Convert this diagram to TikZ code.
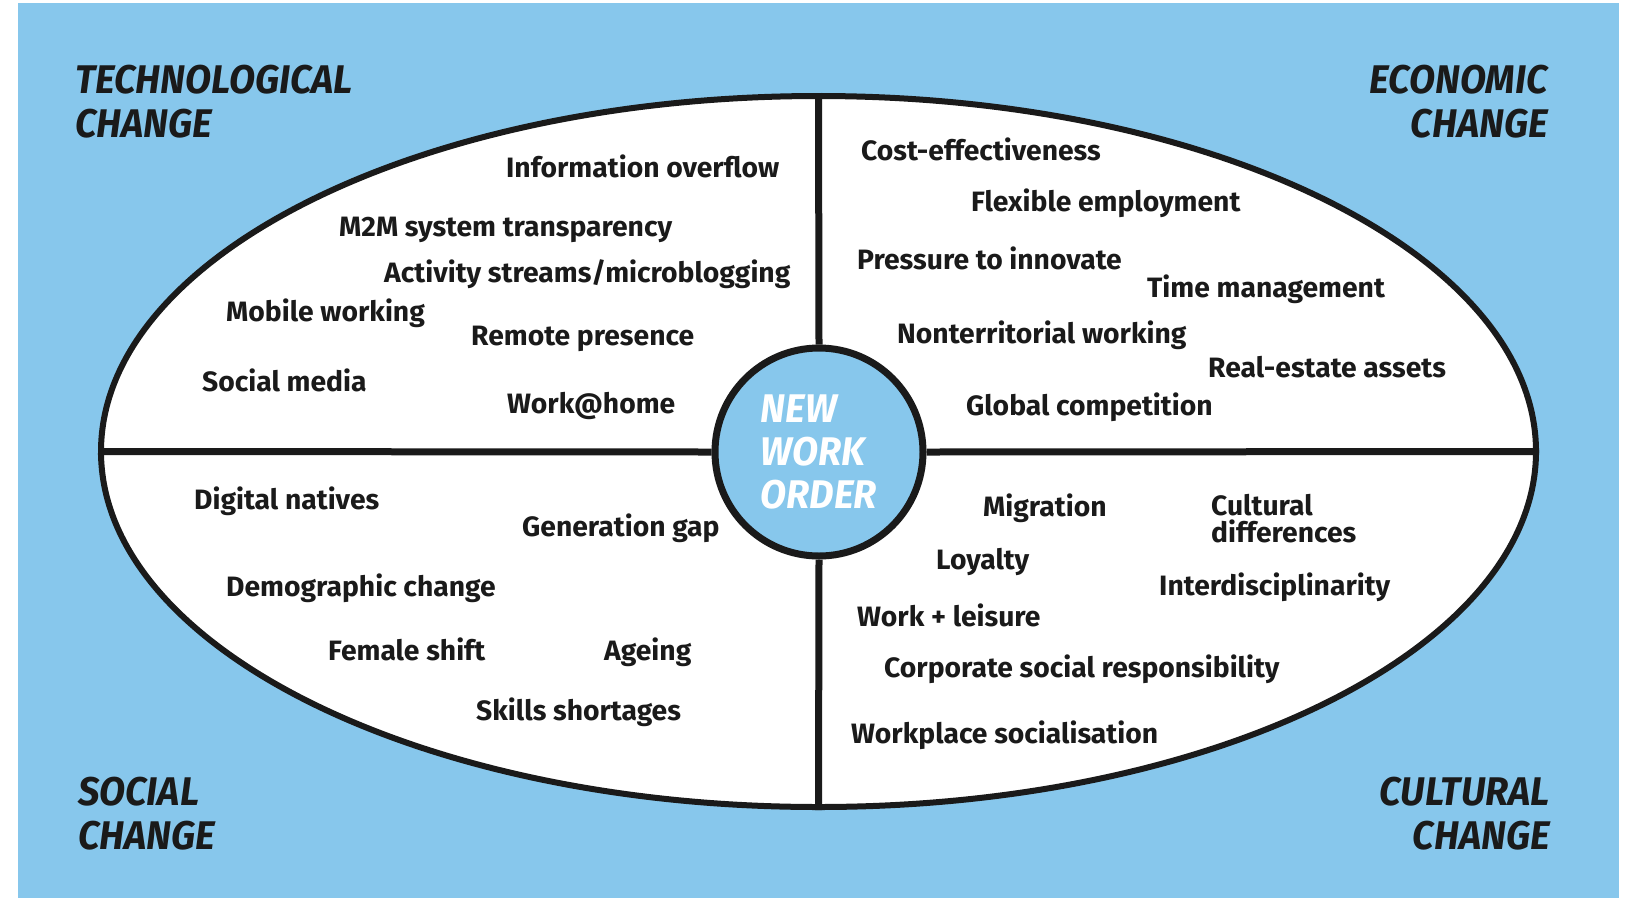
\documentclass[tikz,border=0pt]{standalone}
\usepackage{fontspec}
\setmainfont{Fira Sans}
\newfontfamily\bodyfont{Fira Sans}[FakeStretch=1.01]
\newfontfamily\brushfont{Fira Sans}[FakeStretch=0.95]
\usetikzlibrary{shapes.geometric}
\definecolor{bgblue}{RGB}{135,199,236}
\definecolor{ink}{RGB}{26,26,26}
\tikzset{
  lbl/.style={anchor=base west, inner sep=0pt, text=ink, align=left,
    font=\bodyfont\bfseries\fontsize{28}{27}\selectfont},
  head/.style={inner sep=0pt, text=ink, font=\brushfont\bfseries\itshape\fontsize{40}{44}\selectfont},
  divider/.style={draw=ink, line width=7pt},
}
\begin{document}
\begin{tikzpicture}[x=1pt,y=-1pt]
\useasboundingbox (0,0) rectangle (1630,898);
\fill[white] (0,0) rectangle (1630,898);
\fill[bgblue] (18,3) rectangle (1619,898);
\node[ellipse, draw=ink, line width=6pt, fill=white, minimum width=1435pt, minimum height=711pt, inner sep=0pt] (ell) at (818.5,451.5) {};
\node[circle, draw=ink, line width=7pt, fill=bgblue, minimum size=208pt, inner sep=0pt, text=white, align=left, font=\brushfont\bfseries\itshape\fontsize{40}{43}\selectfont] (ctr) at (819,452) {NEW\\WORK\\ORDER};
\draw[divider] (ell.north) -- (ctr.north);
\draw[divider] (ctr.south) -- (ell.south);
\draw[divider] (ell.west) -- (ctr.west);
\draw[divider] (ctr.east) -- (ell.east);
% corner headings
\node[head, anchor=north west, align=left] (tech) at (75,65) {TECHNOLOGICAL\\CHANGE};
\node[head, anchor=north east, align=right] (econ) at (1548,65) {ECONOMIC\\CHANGE};
\node[head, anchor=north west, align=left] (soc) at (78,777) {SOCIAL\\CHANGE};
\node[head, anchor=north east, align=right] (cult) at (1550,777) {CULTURAL\\CHANGE};
% technological
\node[lbl] (t1) at (506,177) {Information overflow};
\node[lbl] (t2) at (339,236) {M2M system transparency};
\node[lbl] (t3) at (384,282) {Activity streams/microblogging};
\node[lbl] (t4) at (226,321) {Mobile working};
\node[lbl] (t5) at (471,345) {Remote presence};
\node[lbl] (t6) at (202,391) {Social media};
\node[lbl] (t7) at (507,413) {Work@home};
% economic
\node[lbl] (e1) at (861,160) {Cost-effectiveness};
\node[lbl] (e2) at (971,211) {Flexible employment};
\node[lbl] (e3) at (857,269) {Pressure to innovate};
\node[lbl] (e4) at (1147,297) {Time management};
\node[lbl] (e5) at (897,343) {Nonterritorial working};
\node[lbl] (e6) at (1208,377) {Real-estate assets};
\node[lbl] (e7) at (966,415) {Global competition};
% social
\node[lbl] (s1) at (194,509) {Digital natives};
\node[lbl] (s2) at (522,536) {Generation gap};
\node[lbl] (s3) at (226,596) {Demographic change};
\node[lbl] (s4) at (328,660) {Female shift};
\node[lbl] (s5) at (604,660) {Ageing};
\node[lbl] (s6) at (476,720) {Skills shortages};
% cultural
\node[lbl] (c1) at (983,516) {Migration};
\node[lbl] (c2) at (1211,542) {Cultural\\differences};
\node[lbl] (c3) at (936,569) {Loyalty};
\node[lbl] (c4) at (1159,595) {Interdisciplinarity};
\node[lbl] (c5) at (857,626) {Work + leisure};
\node[lbl] (c6) at (884,677) {Corporate social responsibility};
\node[lbl] (c7) at (851,743) {Workplace socialisation};
\end{tikzpicture}
\end{document}
